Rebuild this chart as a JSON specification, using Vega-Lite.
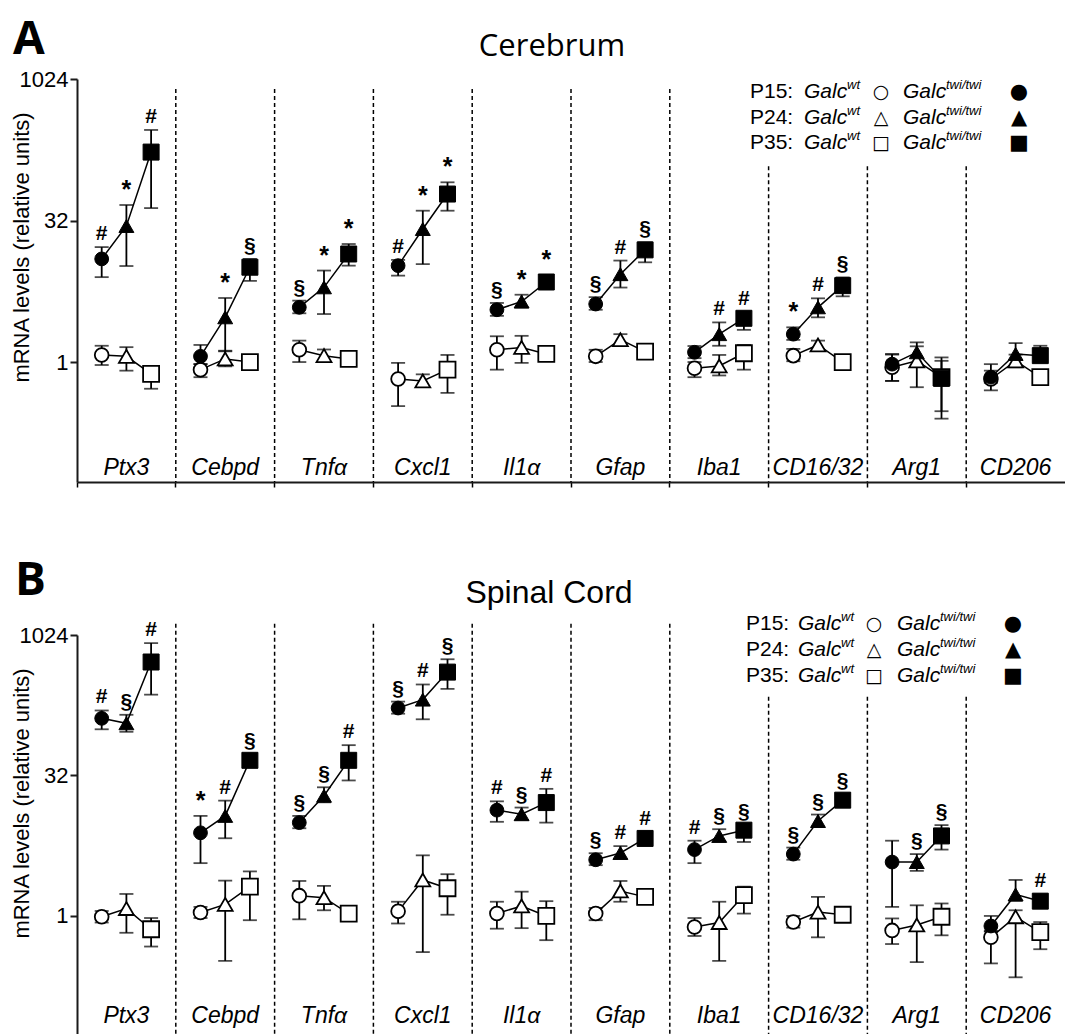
{
  "$schema": "https://vega.github.io/schema/vega-lite/v6.json",
  "background": "white",
  "padding": {"left": 10, "top": 17, "right": 0, "bottom": 0},
  "config": {
    "view": {"stroke": null},
    "font": "Liberation Sans",
    "axis": {"grid": false}
  },
  "datasets": {
    "genes": [{"gene":"Ptx3"},{"gene":"Cebpd"},{"gene":"Tnfα"},{"gene":"Cxcl1"},{"gene":"Il1α"},{"gene":"Gfap"},{"gene":"Iba1"},{"gene":"CD16/32"},{"gene":"Arg1"},{"gene":"CD206"}],
    "leg": [
      {"age":"P15","lab":"P15:","ow":"○","fw":"●"},
      {"age":"P24","lab":"P24:","ow":"△","fw":"▲"},
      {"age":"P35","lab":"P35:","ow":"□","fw":"■"}
    ],
    "cer": [
      {"gene":"Ptx3","age":"P15","geno":"wt","v":1.19,"lo":0.93,"hi":1.49},
      {"gene":"Ptx3","age":"P24","geno":"wt","v":1.15,"lo":0.81,"hi":1.44},
      {"gene":"Ptx3","age":"P35","geno":"wt","v":0.75,"lo":0.52,"hi":0.91},
      {"gene":"Ptx3","age":"P15","geno":"twi","v":12.5,"lo":8.0,"hi":16.7,"sig":"#"},
      {"gene":"Ptx3","age":"P24","geno":"twi","v":28,"lo":10.5,"hi":46.8,"sig":"*"},
      {"gene":"Ptx3","age":"P35","geno":"twi","v":171,"lo":43.4,"hi":294,"sig":"#"},
      {"gene":"Cebpd","age":"P15","geno":"wt","v":0.83,"lo":0.69,"hi":0.95},
      {"gene":"Cebpd","age":"P24","geno":"wt","v":1.08,"lo":0.9,"hi":1.32},
      {"gene":"Cebpd","age":"P35","geno":"wt","v":1.0,"lo":0.88,"hi":1.15},
      {"gene":"Cebpd","age":"P15","geno":"twi","v":1.15,"lo":0.95,"hi":1.52},
      {"gene":"Cebpd","age":"P24","geno":"twi","v":2.99,"lo":1.3,"hi":4.8,"sig":"*"},
      {"gene":"Cebpd","age":"P35","geno":"twi","v":10.2,"lo":7.3,"hi":12.5,"sig":"§"},
      {"gene":"Tnfα","age":"P15","geno":"wt","v":1.35,"lo":1.0,"hi":1.69},
      {"gene":"Tnfα","age":"P24","geno":"wt","v":1.17,"lo":1.02,"hi":1.36},
      {"gene":"Tnfα","age":"P35","geno":"wt","v":1.08,"lo":0.98,"hi":1.22},
      {"gene":"Tnfα","age":"P15","geno":"twi","v":3.82,"lo":3.3,"hi":4.5,"sig":"§"},
      {"gene":"Tnfα","age":"P24","geno":"twi","v":6.23,"lo":3.24,"hi":9.4,"sig":"*"},
      {"gene":"Tnfα","age":"P35","geno":"twi","v":14.1,"lo":10.6,"hi":18,"sig":"*"},
      {"gene":"Cxcl1","age":"P15","geno":"wt","v":0.66,"lo":0.34,"hi":0.98},
      {"gene":"Cxcl1","age":"P24","geno":"wt","v":0.63,"lo":0.55,"hi":0.74},
      {"gene":"Cxcl1","age":"P35","geno":"wt","v":0.83,"lo":0.47,"hi":1.19},
      {"gene":"Cxcl1","age":"P15","geno":"twi","v":10.6,"lo":8.3,"hi":12.2,"sig":"#"},
      {"gene":"Cxcl1","age":"P24","geno":"twi","v":26,"lo":11,"hi":40.7,"sig":"*"},
      {"gene":"Cxcl1","age":"P35","geno":"twi","v":61.2,"lo":40.7,"hi":81.6,"sig":"*"},
      {"gene":"Il1α","age":"P15","geno":"wt","v":1.35,"lo":0.83,"hi":1.88},
      {"gene":"Il1α","age":"P24","geno":"wt","v":1.43,"lo":0.98,"hi":1.9},
      {"gene":"Il1α","age":"P35","geno":"wt","v":1.22,"lo":1.06,"hi":1.42},
      {"gene":"Il1α","age":"P15","geno":"twi","v":3.6,"lo":3.1,"hi":4.25,"sig":"§"},
      {"gene":"Il1α","age":"P24","geno":"twi","v":4.4,"lo":3.8,"hi":5.2,"sig":"*"},
      {"gene":"Il1α","age":"P35","geno":"twi","v":7.1,"lo":6.2,"hi":8.4,"sig":"*"},
      {"gene":"Gfap","age":"P15","geno":"wt","v":1.15,"lo":1.0,"hi":1.35},
      {"gene":"Gfap","age":"P24","geno":"wt","v":1.73,"lo":1.52,"hi":1.98},
      {"gene":"Gfap","age":"P35","geno":"wt","v":1.29,"lo":1.12,"hi":1.5},
      {"gene":"Gfap","age":"P15","geno":"twi","v":4.14,"lo":3.6,"hi":4.9,"sig":"§"},
      {"gene":"Gfap","age":"P24","geno":"twi","v":8.6,"lo":6.2,"hi":12,"sig":"#"},
      {"gene":"Gfap","age":"P35","geno":"twi","v":15.6,"lo":11.5,"hi":18.7,"sig":"§"},
      {"gene":"Iba1","age":"P15","geno":"wt","v":0.86,"lo":0.69,"hi":1.0},
      {"gene":"Iba1","age":"P24","geno":"wt","v":0.91,"lo":0.72,"hi":1.19},
      {"gene":"Iba1","age":"P35","geno":"wt","v":1.24,"lo":0.83,"hi":1.52},
      {"gene":"Iba1","age":"P15","geno":"twi","v":1.27,"lo":1.1,"hi":1.48},
      {"gene":"Iba1","age":"P24","geno":"twi","v":1.98,"lo":1.49,"hi":2.64,"sig":"#"},
      {"gene":"Iba1","age":"P35","geno":"twi","v":2.92,"lo":2.2,"hi":3.43,"sig":"#"},
      {"gene":"CD16/32","age":"P15","geno":"wt","v":1.17,"lo":1.02,"hi":1.38},
      {"gene":"CD16/32","age":"P24","geno":"wt","v":1.52,"lo":1.37,"hi":1.69},
      {"gene":"CD16/32","age":"P35","geno":"wt","v":1.0,"lo":0.88,"hi":1.18},
      {"gene":"CD16/32","age":"P15","geno":"twi","v":1.98,"lo":1.72,"hi":2.34,"sig":"*"},
      {"gene":"CD16/32","age":"P24","geno":"twi","v":3.82,"lo":2.99,"hi":4.76,"sig":"#"},
      {"gene":"CD16/32","age":"P35","geno":"twi","v":6.5,"lo":5.0,"hi":7.95,"sig":"§"},
      {"gene":"Arg1","age":"P15","geno":"wt","v":0.88,"lo":0.63,"hi":1.2},
      {"gene":"Arg1","age":"P24","geno":"wt","v":1.03,"lo":0.54,"hi":1.47},
      {"gene":"Arg1","age":"P35","geno":"wt","v":0.69,"lo":0.25,"hi":1.03},
      {"gene":"Arg1","age":"P15","geno":"twi","v":0.95,"lo":0.63,"hi":1.22},
      {"gene":"Arg1","age":"P24","geno":"twi","v":1.27,"lo":0.91,"hi":1.62},
      {"gene":"Arg1","age":"P35","geno":"twi","v":0.67,"lo":0.3,"hi":1.12},
      {"gene":"CD206","age":"P15","geno":"wt","v":0.66,"lo":0.5,"hi":0.95},
      {"gene":"CD206","age":"P24","geno":"wt","v":1.03,"lo":0.88,"hi":1.2},
      {"gene":"CD206","age":"P35","geno":"wt","v":0.69,"lo":0.57,"hi":0.81},
      {"gene":"CD206","age":"P15","geno":"twi","v":0.69,"lo":0.6,"hi":0.81},
      {"gene":"CD206","age":"P24","geno":"twi","v":1.22,"lo":1.05,"hi":1.59},
      {"gene":"CD206","age":"P35","geno":"twi","v":1.17,"lo":1.0,"hi":1.49}
    ],
    "sc": [
      {"gene":"Ptx3","age":"P15","geno":"wt","v":0.98,"lo":0.85,"hi":1.13},
      {"gene":"Ptx3","age":"P24","geno":"wt","v":1.2,"lo":0.66,"hi":1.72},
      {"gene":"Ptx3","age":"P35","geno":"wt","v":0.72,"lo":0.47,"hi":0.95},
      {"gene":"Ptx3","age":"P15","geno":"twi","v":131,"lo":100,"hi":159,"sig":"#"},
      {"gene":"Ptx3","age":"P24","geno":"twi","v":116,"lo":94,"hi":143,"sig":"§"},
      {"gene":"Ptx3","age":"P35","geno":"twi","v":526,"lo":235,"hi":838,"sig":"#"},
      {"gene":"Cebpd","age":"P15","geno":"wt","v":1.09,"lo":0.95,"hi":1.25},
      {"gene":"Cebpd","age":"P24","geno":"wt","v":1.33,"lo":0.33,"hi":2.39},
      {"gene":"Cebpd","age":"P35","geno":"wt","v":2.06,"lo":0.9,"hi":3.0},
      {"gene":"Cebpd","age":"P15","geno":"twi","v":7.78,"lo":3.68,"hi":11.8,"sig":"*"},
      {"gene":"Cebpd","age":"P24","geno":"twi","v":11.8,"lo":6.8,"hi":17.2,"sig":"#"},
      {"gene":"Cebpd","age":"P35","geno":"twi","v":46.5,"lo":40,"hi":54,"sig":"§"},
      {"gene":"Tnfα","age":"P15","geno":"wt","v":1.65,"lo":0.92,"hi":2.37},
      {"gene":"Tnfα","age":"P24","geno":"wt","v":1.57,"lo":1.15,"hi":2.1},
      {"gene":"Tnfα","age":"P35","geno":"wt","v":1.06,"lo":0.92,"hi":1.22},
      {"gene":"Tnfα","age":"P15","geno":"twi","v":10,"lo":8.7,"hi":11.8,"sig":"§"},
      {"gene":"Tnfα","age":"P24","geno":"twi","v":19.4,"lo":16.5,"hi":23.9,"sig":"§"},
      {"gene":"Tnfα","age":"P35","geno":"twi","v":46.5,"lo":28.3,"hi":67.6,"sig":"#"},
      {"gene":"Cxcl1","age":"P15","geno":"wt","v":1.12,"lo":0.83,"hi":1.42},
      {"gene":"Cxcl1","age":"P24","geno":"wt","v":2.43,"lo":0.41,"hi":4.46},
      {"gene":"Cxcl1","age":"P35","geno":"wt","v":1.98,"lo":1.03,"hi":2.8},
      {"gene":"Cxcl1","age":"P15","geno":"twi","v":169,"lo":147,"hi":198,"sig":"§"},
      {"gene":"Cxcl1","age":"P24","geno":"twi","v":208,"lo":128,"hi":302,"sig":"#"},
      {"gene":"Cxcl1","age":"P35","geno":"twi","v":410,"lo":271,"hi":563,"sig":"§"},
      {"gene":"Il1α","age":"P15","geno":"wt","v":1.06,"lo":0.73,"hi":1.42},
      {"gene":"Il1α","age":"P24","geno":"wt","v":1.28,"lo":0.74,"hi":1.82},
      {"gene":"Il1α","age":"P35","geno":"wt","v":1.0,"lo":0.55,"hi":1.44},
      {"gene":"Il1α","age":"P15","geno":"twi","v":13.6,"lo":10.2,"hi":16.9,"sig":"#"},
      {"gene":"Il1α","age":"P24","geno":"twi","v":12.3,"lo":10.7,"hi":14.5,"sig":"§"},
      {"gene":"Il1α","age":"P35","geno":"twi","v":16.4,"lo":10,"hi":23,"sig":"#"},
      {"gene":"Gfap","age":"P15","geno":"wt","v":1.06,"lo":0.9,"hi":1.22},
      {"gene":"Gfap","age":"P24","geno":"wt","v":1.85,"lo":1.42,"hi":2.37},
      {"gene":"Gfap","age":"P35","geno":"wt","v":1.6,"lo":1.4,"hi":1.88},
      {"gene":"Gfap","age":"P15","geno":"twi","v":4.0,"lo":3.5,"hi":4.7,"sig":"§"},
      {"gene":"Gfap","age":"P24","geno":"twi","v":4.73,"lo":4.1,"hi":5.6,"sig":"#"},
      {"gene":"Gfap","age":"P35","geno":"twi","v":6.77,"lo":5.9,"hi":8.0,"sig":"#"},
      {"gene":"Iba1","age":"P15","geno":"wt","v":0.76,"lo":0.61,"hi":0.95},
      {"gene":"Iba1","age":"P24","geno":"wt","v":0.85,"lo":0.33,"hi":1.42},
      {"gene":"Iba1","age":"P35","geno":"wt","v":1.67,"lo":1.06,"hi":2.06},
      {"gene":"Iba1","age":"P15","geno":"twi","v":5.14,"lo":3.68,"hi":6.4,"sig":"#"},
      {"gene":"Iba1","age":"P24","geno":"twi","v":7.2,"lo":6.3,"hi":8.5,"sig":"§"},
      {"gene":"Iba1","age":"P35","geno":"twi","v":8.3,"lo":6.2,"hi":9.4,"sig":"§"},
      {"gene":"CD16/32","age":"P15","geno":"wt","v":0.86,"lo":0.75,"hi":1.0},
      {"gene":"CD16/32","age":"P24","geno":"wt","v":1.1,"lo":0.59,"hi":1.6},
      {"gene":"CD16/32","age":"P35","geno":"wt","v":1.03,"lo":0.9,"hi":1.2},
      {"gene":"CD16/32","age":"P15","geno":"twi","v":4.6,"lo":4.0,"hi":5.4,"sig":"§"},
      {"gene":"CD16/32","age":"P24","geno":"twi","v":10.4,"lo":9.0,"hi":12.2,"sig":"§"},
      {"gene":"CD16/32","age":"P35","geno":"twi","v":17.4,"lo":15.1,"hi":20.4,"sig":"§"},
      {"gene":"Arg1","age":"P15","geno":"wt","v":0.7,"lo":0.5,"hi":0.94},
      {"gene":"Arg1","age":"P24","geno":"wt","v":0.8,"lo":0.32,"hi":1.3},
      {"gene":"Arg1","age":"P35","geno":"wt","v":0.98,"lo":0.62,"hi":1.36},
      {"gene":"Arg1","age":"P15","geno":"twi","v":3.78,"lo":1.25,"hi":6.4},
      {"gene":"Arg1","age":"P24","geno":"twi","v":3.78,"lo":3.04,"hi":4.6,"sig":"§"},
      {"gene":"Arg1","age":"P35","geno":"twi","v":7.2,"lo":5.14,"hi":9.4,"sig":"§"},
      {"gene":"CD206","age":"P15","geno":"wt","v":0.59,"lo":0.31,"hi":0.69},
      {"gene":"CD206","age":"P24","geno":"wt","v":0.98,"lo":0.22,"hi":1.15},
      {"gene":"CD206","age":"P35","geno":"wt","v":0.67,"lo":0.44,"hi":0.86},
      {"gene":"CD206","age":"P15","geno":"twi","v":0.78,"lo":0.68,"hi":1.0},
      {"gene":"CD206","age":"P24","geno":"twi","v":1.7,"lo":1.45,"hi":2.43},
      {"gene":"CD206","age":"P35","geno":"twi","v":1.44,"lo":1.25,"hi":1.7,"sig":"#"}
    ]
  },
  "spacing": 70,
  "vconcat": [
    {
      "title": {"text": "A", "anchor": "start", "font": "Open Sans", "fontSize": 46, "fontWeight": "bold", "color": "black", "dx": 3, "offset": -33},
      "vconcat": [
        {
          "title": {"text": "Cerebrum", "font": "Open Sans", "fontSize": 31, "fontWeight": "normal", "color": "black", "anchor": "middle", "frame": "group", "dx": -19, "offset": 5},
          "width": 988,
          "height": 403,
          "resolve": {"scale": {"y": "independent"}},
          "layer": [
            {
              "layer": [
                {
                  "data": {"name": "genes"},
                  "transform": [{"filter": {"field": "gene", "oneOf": ["Cebpd","Tnfα","Cxcl1","Il1α","Gfap","Iba1"]}}],
                  "mark": {"type": "rule", "strokeDash": [4, 3], "strokeWidth": 1.5, "color": "black"},
                  "encoding": {
                    "x": {"field": "gene", "type": "nominal", "bandPosition": 0,
                      "scale": {"type": "band", "domain": ["Ptx3","Cebpd","Tnfα","Cxcl1","Il1α","Gfap","Iba1","CD16/32","Arg1","CD206"], "paddingInner": 0, "paddingOuter": 0},
                      "axis": {"title": null, "labels": false, "ticks": true, "tickSize": 5, "tickWidth": 1.5, "tickColor": "black", "domainColor": "#1a1a1a", "domainWidth": 2, "bandPosition": 0}},
                    "y": {"datum": 800, "type": "quantitative",
                      "scale": {"type": "log", "base": 2, "domain": [0.053, 1024], "nice": false},
                      "axis": {"values": [1, 32, 1024], "format": "d", "title": "mRNA levels (relative units)", "titleFontSize": 22, "titleFontWeight": "normal", "titleColor": "black", "titleY": 168, "titleX": -44, "titleBaseline": "bottom", "labelFontSize": 22, "labelColor": "black", "labelPadding": 2, "tickSize": 7, "tickWidth": 2, "tickColor": "#1a1a1a", "domainColor": "#1a1a1a", "domainWidth": 2}},
                    "y2": {"datum": 0.053}
                  }
                },
                {
                  "data": {"name": "genes"},
                  "transform": [{"filter": {"field": "gene", "oneOf": ["CD16/32","Arg1","CD206"]}}],
                  "mark": {"type": "rule", "strokeDash": [4, 3], "strokeWidth": 1.5, "color": "black"},
                  "encoding": {
                    "x": {"field": "gene", "type": "nominal", "bandPosition": 0},
                    "y": {"datum": 121, "type": "quantitative"},
                    "y2": {"datum": 0.053}
                  }
                },
                {
                  "data": {"name": "genes"},
                  "mark": {"type": "text", "font": "Liberation Sans", "fontSize": 23, "fontStyle": "italic", "baseline": "alphabetic", "color": "black"},
                  "encoding": {
                    "x": {"field": "gene", "type": "nominal"},
                    "y": {"datum": 0.0625, "type": "quantitative"},
                    "text": {"field": "gene"}
                  }
                },
                {
                  "data": {"name": "cer"},
                  "mark": {"type": "line", "color": "black", "strokeWidth": 1.5},
                  "encoding": {
                    "x": {"field": "gene", "type": "nominal"},
                    "xOffset": {"field": "age", "type": "nominal", "scale": {"type": "point", "padding": 1, "domain": ["P15","P24","P35"]}},
                    "y": {"field": "v", "type": "quantitative"},
                    "detail": [{"field": "gene"}, {"field": "geno"}],
                    "order": {"field": "age"}
                  }
                },
                {
                  "data": {"name": "cer"},
                  "mark": {"type": "rule", "color": "black", "strokeWidth": 1.8},
                  "encoding": {
                    "x": {"field": "gene", "type": "nominal"},
                    "xOffset": {"field": "age", "type": "nominal"},
                    "y": {"field": "lo", "type": "quantitative"},
                    "y2": {"field": "hi"}
                  }
                },
                {
                  "data": {"name": "cer"},
                  "mark": {"type": "tick", "color": "black", "thickness": 1.8, "size": 14},
                  "encoding": {
                    "x": {"field": "gene", "type": "nominal"},
                    "xOffset": {"field": "age", "type": "nominal"},
                    "y": {"field": "lo", "type": "quantitative"}
                  }
                },
                {
                  "data": {"name": "cer"},
                  "mark": {"type": "tick", "color": "black", "thickness": 1.8, "size": 14},
                  "encoding": {
                    "x": {"field": "gene", "type": "nominal"},
                    "xOffset": {"field": "age", "type": "nominal"},
                    "y": {"field": "hi", "type": "quantitative"}
                  }
                },
                {
                  "data": {"name": "cer"},
                  "transform": [{"filter": "datum.geno === 'wt'"}],
                  "mark": {"type": "point", "filled": true, "fill": "white", "stroke": "black", "strokeWidth": 1.8, "opacity": 1},
                  "encoding": {
                    "x": {"field": "gene", "type": "nominal"},
                    "xOffset": {"field": "age", "type": "nominal"},
                    "y": {"field": "v", "type": "quantitative"},
                    "shape": {"field": "age", "type": "nominal", "scale": {"domain": ["P15","P24","P35"], "range": ["circle","triangle-up","square"]}, "legend": null},
                    "size": {"field": "age", "type": "nominal", "scale": {"domain": ["P15","P24","P35"], "range": [190, 256, 185]}, "legend": null}
                  }
                },
                {
                  "data": {"name": "cer"},
                  "transform": [{"filter": "datum.geno === 'twi'"}],
                  "mark": {"type": "point", "filled": true, "fill": "black", "stroke": "black", "strokeWidth": 1, "opacity": 1},
                  "encoding": {
                    "x": {"field": "gene", "type": "nominal"},
                    "xOffset": {"field": "age", "type": "nominal"},
                    "y": {"field": "v", "type": "quantitative"},
                    "shape": {"field": "age", "type": "nominal", "legend": null},
                    "size": {"field": "age", "type": "nominal", "legend": null}
                  }
                },
                {
                  "data": {"name": "cer"},
                  "transform": [{"filter": "isValid(datum.sig)"}],
                  "mark": {"type": "text", "font": "Liberation Sans", "fontWeight": "bold", "baseline": "alphabetic", "dy": -7, "color": "black"},
                  "encoding": {
                    "x": {"field": "gene", "type": "nominal"},
                    "xOffset": {"field": "age", "type": "nominal"},
                    "y": {"field": "hi", "type": "quantitative"},
                    "text": {"field": "sig"},
                    "size": {"condition": {"test": "datum.sig === '*'", "value": 25}, "value": 21}
                  }
                }
              ]
            },
            {
              "data": {"name": "leg"},
              "encoding": {
                "x": {"datum": "CD16/32", "type": "nominal"},
                "y": {"field": "age", "type": "nominal", "scale": {"type": "point", "padding": 0, "domain": ["P15","P24","P35"], "range": [13, 64]}, "axis": null}
              },
              "layer": [
                {"mark": {"type": "text", "font": "Liberation Sans", "fontSize": 21, "align": "left", "baseline": "middle", "dx": -68, "color": "black"}, "encoding": {"text": {"field": "lab"}}},
                {"mark": {"type": "text", "font": "Liberation Sans", "fontSize": 21, "fontStyle": "italic", "align": "left", "baseline": "middle", "dx": -14, "color": "black"}, "encoding": {"text": {"value": "Galc"}}},
                {"mark": {"type": "text", "font": "Liberation Sans", "fontSize": 13, "fontStyle": "italic", "align": "left", "baseline": "middle", "dx": 29, "dy": -7, "color": "black"}, "encoding": {"text": {"value": "wt"}}},
                {"mark": {"type": "text", "font": "DejaVu Sans", "fontSize": 19, "align": "center", "baseline": "middle", "dx": 63, "color": "black"}, "encoding": {"text": {"field": "ow"}}},
                {"mark": {"type": "text", "font": "Liberation Sans", "fontSize": 21, "fontStyle": "italic", "align": "left", "baseline": "middle", "dx": 85, "color": "black"}, "encoding": {"text": {"value": "Galc"}}},
                {"mark": {"type": "text", "font": "Liberation Sans", "fontSize": 13, "fontStyle": "italic", "align": "left", "baseline": "middle", "dx": 128, "dy": -7, "color": "black"}, "encoding": {"text": {"value": "twi/twi"}}},
                {"mark": {"type": "text", "font": "DejaVu Sans", "fontSize": 21, "align": "center", "baseline": "middle", "dx": 201, "color": "black"}, "encoding": {"text": {"field": "fw"}}}
              ]
            }
          ]
        }
      ]
    },
    {
      "title": {"text": "B", "anchor": "start", "font": "Open Sans", "fontSize": 46, "fontWeight": "bold", "color": "black", "dx": 5, "offset": -28},
      "vconcat": [
        {
          "title": {"text": "Spinal Cord", "font": "Liberation Sans", "fontSize": 32, "fontWeight": "normal", "color": "black", "anchor": "middle", "frame": "group", "dx": -22, "offset": 1},
          "width": 988,
          "height": 400,
          "resolve": {"scale": {"y": "independent"}},
          "layer": [
            {
              "layer": [
                {
                  "data": {"name": "genes"},
                  "transform": [{"filter": {"field": "gene", "oneOf": ["Cebpd","Tnfα","Cxcl1","Il1α","Gfap","Iba1"]}}],
                  "mark": {"type": "rule", "strokeDash": [4, 3], "strokeWidth": 1.5, "color": "black"},
                  "encoding": {
                    "x": {"field": "gene", "type": "nominal", "bandPosition": 0,
                      "scale": {"type": "band", "domain": ["Ptx3","Cebpd","Tnfα","Cxcl1","Il1α","Gfap","Iba1","CD16/32","Arg1","CD206"], "paddingInner": 0, "paddingOuter": 0},
                      "axis": {"title": null, "labels": false, "ticks": true, "tickSize": 5, "tickWidth": 1.5, "tickColor": "black", "domainColor": "#1a1a1a", "domainWidth": 2, "bandPosition": 0}},
                    "y": {"datum": 1350, "type": "quantitative",
                      "scale": {"type": "log", "base": 2, "domain": [0.053, 1024], "nice": false},
                      "axis": {"values": [1, 32, 1024], "format": "d", "title": "mRNA levels (relative units)", "titleFontSize": 22, "titleFontWeight": "normal", "titleColor": "black", "titleY": 168, "titleX": -44, "titleBaseline": "bottom", "labelFontSize": 22, "labelColor": "black", "labelPadding": 2, "tickSize": 7, "tickWidth": 2, "tickColor": "#1a1a1a", "domainColor": "#1a1a1a", "domainWidth": 2}},
                    "y2": {"datum": 0.053}
                  }
                },
                {
                  "data": {"name": "genes"},
                  "transform": [{"filter": {"field": "gene", "oneOf": ["CD16/32","Arg1","CD206"]}}],
                  "mark": {"type": "rule", "strokeDash": [4, 3], "strokeWidth": 1.5, "color": "black"},
                  "encoding": {
                    "x": {"field": "gene", "type": "nominal", "bandPosition": 0},
                    "y": {"datum": 223, "type": "quantitative"},
                    "y2": {"datum": 0.053}
                  }
                },
                {
                  "data": {"name": "genes"},
                  "mark": {"type": "text", "font": "Liberation Sans", "fontSize": 23, "fontStyle": "italic", "baseline": "alphabetic", "color": "black"},
                  "encoding": {
                    "x": {"field": "gene", "type": "nominal"},
                    "y": {"datum": 0.072, "type": "quantitative"},
                    "text": {"field": "gene"}
                  }
                },
                {
                  "data": {"name": "sc"},
                  "mark": {"type": "line", "color": "black", "strokeWidth": 1.5},
                  "encoding": {
                    "x": {"field": "gene", "type": "nominal"},
                    "xOffset": {"field": "age", "type": "nominal", "scale": {"type": "point", "padding": 1, "domain": ["P15","P24","P35"]}},
                    "y": {"field": "v", "type": "quantitative"},
                    "detail": [{"field": "gene"}, {"field": "geno"}],
                    "order": {"field": "age"}
                  }
                },
                {
                  "data": {"name": "sc"},
                  "mark": {"type": "rule", "color": "black", "strokeWidth": 1.8},
                  "encoding": {
                    "x": {"field": "gene", "type": "nominal"},
                    "xOffset": {"field": "age", "type": "nominal"},
                    "y": {"field": "lo", "type": "quantitative"},
                    "y2": {"field": "hi"}
                  }
                },
                {
                  "data": {"name": "sc"},
                  "mark": {"type": "tick", "color": "black", "thickness": 1.8, "size": 14},
                  "encoding": {
                    "x": {"field": "gene", "type": "nominal"},
                    "xOffset": {"field": "age", "type": "nominal"},
                    "y": {"field": "lo", "type": "quantitative"}
                  }
                },
                {
                  "data": {"name": "sc"},
                  "mark": {"type": "tick", "color": "black", "thickness": 1.8, "size": 14},
                  "encoding": {
                    "x": {"field": "gene", "type": "nominal"},
                    "xOffset": {"field": "age", "type": "nominal"},
                    "y": {"field": "hi", "type": "quantitative"}
                  }
                },
                {
                  "data": {"name": "sc"},
                  "transform": [{"filter": "datum.geno === 'wt'"}],
                  "mark": {"type": "point", "filled": true, "fill": "white", "stroke": "black", "strokeWidth": 1.8, "opacity": 1},
                  "encoding": {
                    "x": {"field": "gene", "type": "nominal"},
                    "xOffset": {"field": "age", "type": "nominal"},
                    "y": {"field": "v", "type": "quantitative"},
                    "shape": {"field": "age", "type": "nominal", "scale": {"domain": ["P15","P24","P35"], "range": ["circle","triangle-up","square"]}, "legend": null},
                    "size": {"field": "age", "type": "nominal", "scale": {"domain": ["P15","P24","P35"], "range": [190, 256, 185]}, "legend": null}
                  }
                },
                {
                  "data": {"name": "sc"},
                  "transform": [{"filter": "datum.geno === 'twi'"}],
                  "mark": {"type": "point", "filled": true, "fill": "black", "stroke": "black", "strokeWidth": 1, "opacity": 1},
                  "encoding": {
                    "x": {"field": "gene", "type": "nominal"},
                    "xOffset": {"field": "age", "type": "nominal"},
                    "y": {"field": "v", "type": "quantitative"},
                    "shape": {"field": "age", "type": "nominal", "legend": null},
                    "size": {"field": "age", "type": "nominal", "legend": null}
                  }
                },
                {
                  "data": {"name": "sc"},
                  "transform": [{"filter": "isValid(datum.sig)"}],
                  "mark": {"type": "text", "font": "Liberation Sans", "fontWeight": "bold", "baseline": "alphabetic", "dy": -7, "color": "black"},
                  "encoding": {
                    "x": {"field": "gene", "type": "nominal"},
                    "xOffset": {"field": "age", "type": "nominal"},
                    "y": {"field": "hi", "type": "quantitative"},
                    "text": {"field": "sig"},
                    "size": {"condition": {"test": "datum.sig === '*'", "value": 25}, "value": 21}
                  }
                }
              ]
            },
            {
              "data": {"name": "leg"},
              "encoding": {
                "x": {"datum": "CD16/32", "type": "nominal"},
                "y": {"field": "age", "type": "nominal", "scale": {"type": "point", "padding": 0, "domain": ["P15","P24","P35"], "range": [-11, 41]}, "axis": null}
              },
              "layer": [
                {"mark": {"type": "text", "font": "Liberation Sans", "fontSize": 21, "align": "left", "baseline": "middle", "dx": -72, "color": "black"}, "encoding": {"text": {"field": "lab"}}},
                {"mark": {"type": "text", "font": "Liberation Sans", "fontSize": 21, "fontStyle": "italic", "align": "left", "baseline": "middle", "dx": -20, "color": "black"}, "encoding": {"text": {"value": "Galc"}}},
                {"mark": {"type": "text", "font": "Liberation Sans", "fontSize": 13, "fontStyle": "italic", "align": "left", "baseline": "middle", "dx": 23, "dy": -7, "color": "black"}, "encoding": {"text": {"value": "wt"}}},
                {"mark": {"type": "text", "font": "DejaVu Sans", "fontSize": 19, "align": "center", "baseline": "middle", "dx": 56, "color": "black"}, "encoding": {"text": {"field": "ow"}}},
                {"mark": {"type": "text", "font": "Liberation Sans", "fontSize": 21, "fontStyle": "italic", "align": "left", "baseline": "middle", "dx": 79, "color": "black"}, "encoding": {"text": {"value": "Galc"}}},
                {"mark": {"type": "text", "font": "Liberation Sans", "fontSize": 13, "fontStyle": "italic", "align": "left", "baseline": "middle", "dx": 122, "dy": -7, "color": "black"}, "encoding": {"text": {"value": "twi/twi"}}},
                {"mark": {"type": "text", "font": "DejaVu Sans", "fontSize": 21, "align": "center", "baseline": "middle", "dx": 195, "color": "black"}, "encoding": {"text": {"field": "fw"}}}
              ]
            }
          ]
        }
      ]
    }
  ]
}
